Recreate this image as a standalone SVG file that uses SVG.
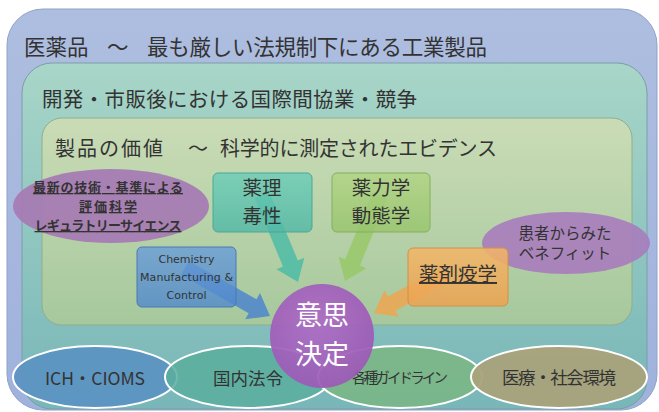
<svg xmlns="http://www.w3.org/2000/svg" width="659" height="412" viewBox="0 0 659 412">
<defs>
<linearGradient id="gOuter" x1="0" y1="0" x2="0" y2="1"><stop offset="0" stop-color="#aebee0"/><stop offset="1" stop-color="#9fb2dc"/></linearGradient>
<linearGradient id="gMid" x1="0" y1="0" x2="0" y2="1"><stop offset="0" stop-color="#a8d6c8"/><stop offset="1" stop-color="#78b6b8"/></linearGradient>
<linearGradient id="gInner" x1="0" y1="0" x2="0" y2="1"><stop offset="0" stop-color="#cadcb6"/><stop offset="1" stop-color="#a6c89c"/></linearGradient>
<linearGradient id="gTeal" x1="0" y1="0" x2="0" y2="1"><stop offset="0" stop-color="#6ccdb8"/><stop offset="1" stop-color="#52b8a6"/></linearGradient>
<linearGradient id="gGreen" x1="0" y1="0" x2="0" y2="1"><stop offset="0" stop-color="#b0d484"/><stop offset="1" stop-color="#98c46c"/></linearGradient>
<linearGradient id="gBlue" x1="0" y1="0" x2="0" y2="1"><stop offset="0" stop-color="#6a9ed8"/><stop offset="1" stop-color="#5088cc"/></linearGradient>
<linearGradient id="gOrange" x1="0" y1="0" x2="0" y2="1"><stop offset="0" stop-color="#f4b668"/><stop offset="1" stop-color="#eca250"/></linearGradient>
<radialGradient id="gCircle" cx="0.45" cy="0.4" r="0.65"><stop offset="0" stop-color="#ae6cc4"/><stop offset="1" stop-color="#9a58b6"/></radialGradient>
</defs>
<style>
.jp{font-family:"Noto Sans CJK JP","Noto Sans",sans-serif;fill:#333}
.t1{font-size:21.5px}
.t2{font-size:20.5px}
.t3{font-size:20px}
.box{stroke-width:1}
.lab{font-size:19.5px;text-anchor:middle}
.ell{stroke:#ffffff;stroke-width:2}
.bl{font-size:17.5px;text-anchor:middle}
.en{font-family:"DejaVu Sans","Liberation Sans",sans-serif;font-size:11px;fill:#333;text-anchor:middle}
.arrow{stroke:none}
</style>

<g id="container-outer">
<rect x="7" y="9" width="650" height="401" rx="36" fill="url(#gOuter)" stroke="#8fa2c8" stroke-width="1"/>
<text class="jp t1" y="55"><tspan x="24">医薬品</tspan><tspan x="107">～</tspan><tspan x="147" textLength="340">最も厳しい法規制下にある工業製品</tspan></text>
</g>
<g id="container-middle">
<rect x="22" y="63" width="625" height="346" rx="30" fill="url(#gMid)" stroke="#7a9ea8" stroke-width="1"/>
<text class="jp t2" x="42" y="107" textLength="375">開発・市販後における国際間協業・競争</text>
</g>
<g id="container-inner">
<rect x="42" y="118" width="590" height="207" rx="20" fill="url(#gInner)" stroke="#8fae8c" stroke-width="1"/>
<text class="jp t3" y="156"><tspan x="55" textLength="108">製品の価値</tspan><tspan x="188">～</tspan><tspan x="220" textLength="277">科学的に測定されたエビデンス</tspan></text>
</g>

<g id="node-ich">
<ellipse class="ell" cx="95" cy="377" rx="82" ry="31" fill="#5b93c2" fill-opacity="0.92"/>
<text class="jp bl" x="95" y="385" font-size="18" textLength="100">ICH・CIOMS</text>
</g>
<g id="node-kokunai">
<ellipse class="ell" cx="248" cy="377" rx="83" ry="31" fill="#5aae9e" fill-opacity="0.85"/>
<text class="jp bl" x="248" y="385">国内法令</text>
</g>
<g id="node-guideline">
<ellipse class="ell" cx="400" cy="377" rx="82" ry="31" fill="#7ab682" fill-opacity="0.85"/>
<text class="jp" x="400" y="383" font-size="14.5" text-anchor="middle" textLength="96">各種ガイドライン</text>
</g>
<g id="node-iryo">
<ellipse class="ell" cx="559" cy="377" rx="88" ry="31" fill="#a9a27a" fill-opacity="0.95"/>
<text class="jp bl" x="559" y="384" font-size="17" textLength="114">医療・社会環境</text>
</g>

<g id="node-rs">
<ellipse cx="111" cy="206" rx="98" ry="37" fill="#a679b4" fill-opacity="0.92"/>
<g class="jp" font-size="13" font-weight="bold" text-anchor="middle" text-decoration="underline">
<text x="108" y="192" textLength="150">最新の技術・基準による</text>
<text x="108" y="211" textLength="58">評価科学</text>
<text x="108" y="230" textLength="147">レギュラトリーサイエンス</text>
</g>
</g>

<g id="node-benefit">
<ellipse cx="566" cy="243" rx="84" ry="31" fill="#a77cbc" fill-opacity="0.9"/>
<text class="jp" x="565" y="239" font-size="15.5" text-anchor="middle">患者からみた</text>
<text class="jp" x="565" y="259" font-size="15.5" text-anchor="middle">ベネフィット</text>
</g>

<g id="connectors">
<polygon class="arrow" fill="#4cbca6" fill-opacity="0.85" points="254.6,198.1 269.4,191.9 297.8,260.4 304.3,257.8 298,282 276.5,269.2 283.0,266.6"/>
<polygon class="arrow" fill="#98c868" fill-opacity="0.85" points="372.6,192 387.4,198 359.9,265.5 366.4,268.2 345,281 338.6,256.8 345.1,259.5"/>
<polygon class="arrow" fill="#4e86cc" fill-opacity="0.85" points="188.9,261 181.1,275 248.7,313.2 245.2,319.3 270,316 260,293.1 256.5,299.2"/>
<polygon class="arrow" fill="#eea650" fill-opacity="0.85" points="441.2,267.9 448.8,282.1 395.4,310.7 398.7,316.8 374,313 384.5,290.4 387.8,296.5"/>
</g>

<g id="node-yakuri">
<rect class="box" x="213" y="173" width="99" height="59" rx="5" fill="url(#gTeal)" fill-opacity="0.82" stroke="#4aa894"/>
<text class="jp lab" x="262" y="195">薬理</text>
<text class="jp lab" x="262" y="223">毒性</text>
</g>
<g id="node-yakuryoku">
<rect class="box" x="332" y="173" width="98" height="59" rx="5" fill="url(#gGreen)" fill-opacity="0.82" stroke="#86ae60"/>
<text class="jp lab" x="381" y="195">薬力学</text>
<text class="jp lab" x="381" y="223">動態学</text>
</g>
<g id="node-cmc">
<rect class="box" x="137" y="247" width="99" height="60" rx="5" fill="url(#gBlue)" fill-opacity="0.8" stroke="#4a78b4"/>
<text class="en" x="186.5" y="263" textLength="56">Chemistry</text>
<text class="en" x="186.5" y="281" textLength="93">Manufacturing &amp;</text>
<text class="en" x="186.5" y="299" textLength="40">Control</text>
</g>
<g id="node-yakuzai">
<rect class="box" x="408" y="248" width="100" height="58" rx="5" fill="url(#gOrange)" fill-opacity="0.85" stroke="#d0904a"/>
<text class="jp lab" x="458" y="281" text-decoration="underline">薬剤疫学</text>
</g>

<g id="node-decision">
<circle cx="322" cy="336" r="52" fill="url(#gCircle)" fill-opacity="0.93"/>
<text class="jp" x="322" y="325" font-size="27" text-anchor="middle" fill="#ffffff" style="fill:#ffffff">意思</text>
<text class="jp" x="322" y="364" font-size="27" text-anchor="middle" fill="#ffffff" style="fill:#ffffff">決定</text>
</g>
</svg>
